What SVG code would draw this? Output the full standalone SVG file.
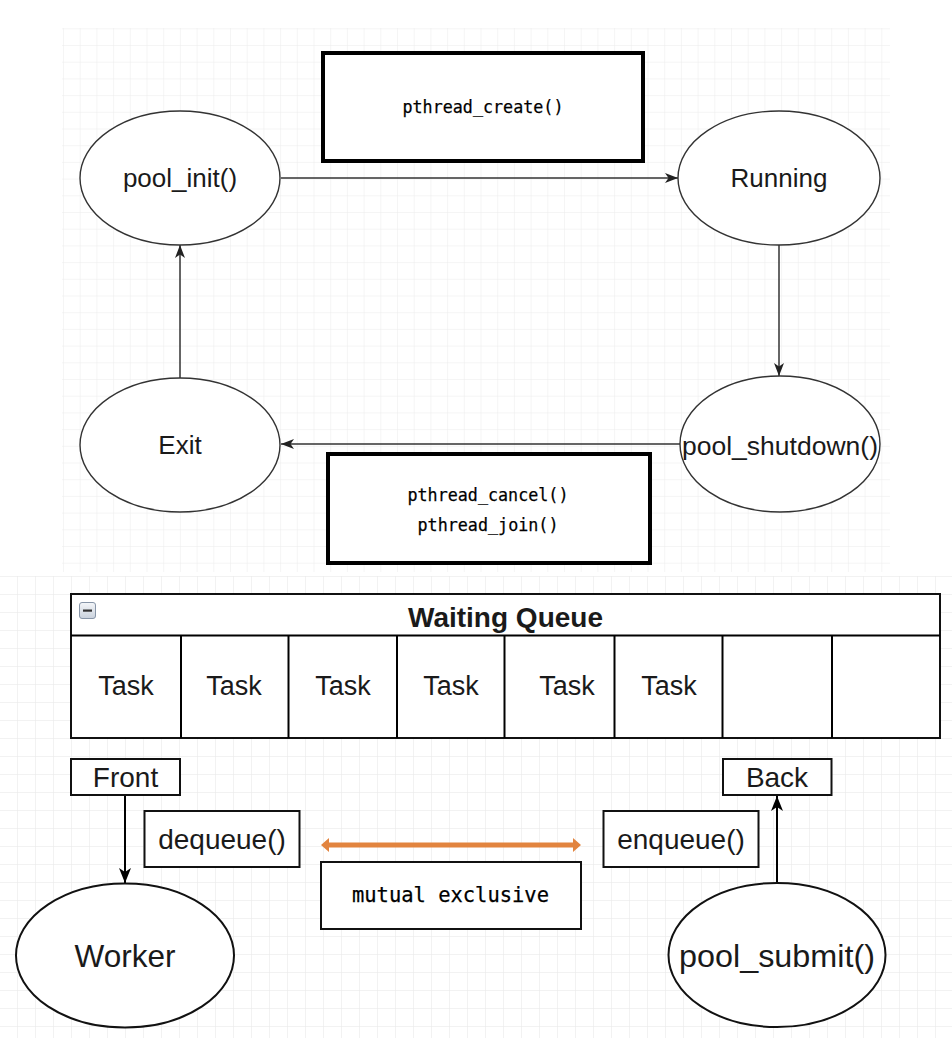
<svg xmlns="http://www.w3.org/2000/svg" width="952" height="1038" viewBox="0 0 952 1038">
<defs>
<pattern id="gridTop" x="63" y="28.3" width="16.7" height="16.7" patternUnits="userSpaceOnUse">
<path d="M0,0 H16.7 M0,0 V16.7" fill="none" stroke="#ececec" stroke-width="1"/>
</pattern>
<pattern id="gridBot" x="-1" y="576" width="18" height="18" patternUnits="userSpaceOnUse">
<path d="M0,0 H18 M0,0 V18" fill="none" stroke="#e6e6e6" stroke-width="1"/>
</pattern>
<linearGradient id="iconGrad" x1="0" y1="0" x2="0" y2="1">
<stop offset="0" stop-color="#f4f6f9"/>
<stop offset="1" stop-color="#c9d1dc"/>
</linearGradient>
<marker id="arrTop" viewBox="0 0 13 10" refX="13" refY="5" markerWidth="13" markerHeight="10" markerUnits="userSpaceOnUse" orient="auto">
<path d="M0,0 L13,5 L0,10 L3.5,5 Z" fill="#222"/>
</marker>
<marker id="arrBot" viewBox="0 0 15 12" refX="15" refY="6" markerWidth="15" markerHeight="12" markerUnits="userSpaceOnUse" orient="auto">
<path d="M0,0 L15,6 L0,12 L4,6 Z" fill="#000"/>
</marker>
</defs>
<style>
.bg{fill:#ffffff}
.st{fill:#fff;stroke:#333;stroke-width:1.4}
.sb{fill:#fff;stroke:#111;stroke-width:2}
.thick{fill:#fff;stroke:#000;stroke-width:4}
.lbl{font-family:"Liberation Sans",Arial,sans-serif;fill:#1a1a1a;text-anchor:middle}
.mono{font-family:"DejaVu Sans Mono","Liberation Mono",monospace;fill:#000;text-anchor:middle;stroke:#000;stroke-width:0.25}
.edgeT{fill:none;stroke:#333;stroke-width:1.5}
.edgeB{fill:none;stroke:#000;stroke-width:2}
</style>
<rect class="bg" x="0" y="0" width="952" height="1038"/>
<rect x="62" y="28" width="828" height="544" fill="url(#gridTop)"/>
<rect x="0" y="576" width="952" height="462" fill="url(#gridBot)"/>

<g id="connectors">
<line class="edgeT" x1="281" y1="178" x2="678" y2="178" marker-end="url(#arrTop)"/>
<line class="edgeT" x1="779" y1="245" x2="779" y2="376" marker-end="url(#arrTop)"/>
<line class="edgeT" x1="680" y1="444" x2="281" y2="444" marker-end="url(#arrTop)"/>
<line class="edgeT" x1="180" y1="378" x2="180" y2="245" marker-end="url(#arrTop)"/>
<line class="edgeB" x1="125" y1="795" x2="125" y2="883" marker-end="url(#arrBot)"/>
<line class="edgeB" x1="777" y1="883" x2="777" y2="796" marker-end="url(#arrBot)"/>
<polygon id="mutex-arrow" points="321,845 329,838 329,842.5 573,842.5 573,838 581,845 573,852 573,847.5 329,847.5 329,852" fill="#E2843F"/>
</g>

<g id="pthread-create">
<rect class="thick" x="323" y="53" width="320" height="108"/>
<text class="mono" x="483" y="113" font-size="18.5" textLength="161" lengthAdjust="spacingAndGlyphs">pthread_create()</text>
</g>
<g id="pool-init">
<ellipse class="st" cx="180" cy="178" rx="100" ry="67"/>
<text class="lbl" x="180" y="187" font-size="26">pool_init()</text>
</g>
<g id="running">
<ellipse class="st" cx="779" cy="178" rx="101" ry="67"/>
<text class="lbl" x="779" y="187" font-size="26">Running</text>
</g>
<g id="pool-shutdown">
<ellipse class="st" cx="780" cy="444" rx="100" ry="68"/>
<text class="lbl" x="780" y="455" font-size="26" textLength="196" lengthAdjust="spacingAndGlyphs">pool_shutdown()</text>
</g>
<g id="exit">
<ellipse class="st" cx="180" cy="445" rx="100" ry="67"/>
<text class="lbl" x="180" y="454" font-size="26">Exit</text>
</g>
<g id="pthread-cancel-join">
<rect class="thick" x="328" y="454" width="322" height="109"/>
<text class="mono" x="488" y="501" font-size="18.5" textLength="161" lengthAdjust="spacingAndGlyphs">pthread_cancel()</text>
<text class="mono" x="488" y="531" font-size="18.5" textLength="141" lengthAdjust="spacingAndGlyphs">pthread_join()</text>
</g>

<g id="waiting-queue">
<rect class="sb" x="71" y="594" width="869" height="144"/>
<line class="edgeB" x1="71" y1="635.5" x2="940" y2="635.5"/>
<line class="edgeB" x1="181" y1="635.5" x2="181" y2="738"/>
<line class="edgeB" x1="288.5" y1="635.5" x2="288.5" y2="738"/>
<line class="edgeB" x1="397" y1="635.5" x2="397" y2="738"/>
<line class="edgeB" x1="504.5" y1="635.5" x2="504.5" y2="738"/>
<line class="edgeB" x1="614.5" y1="635.5" x2="614.5" y2="738"/>
<line class="edgeB" x1="722.5" y1="635.5" x2="722.5" y2="738"/>
<line class="edgeB" x1="832" y1="635.5" x2="832" y2="738"/>
<rect x="79.5" y="602.5" width="16" height="16" rx="2.5" fill="url(#iconGrad)" stroke="#8795a8" stroke-width="1"/>
<rect x="83" y="609.5" width="9" height="2.2" fill="#333"/>
<text class="lbl" x="505.5" y="627" font-size="28" font-weight="bold" fill="#000">Waiting Queue</text>
<text class="lbl" x="126" y="695" font-size="27">Task</text>
<text class="lbl" x="234" y="695" font-size="27">Task</text>
<text class="lbl" x="343" y="695" font-size="27">Task</text>
<text class="lbl" x="451" y="695" font-size="27">Task</text>
<text class="lbl" x="567" y="695" font-size="27">Task</text>
<text class="lbl" x="669" y="695" font-size="27">Task</text>
</g>

<g id="front">
<rect class="sb" x="71" y="759" width="109" height="36"/>
<text class="lbl" x="125.5" y="787" font-size="28">Front</text>
</g>
<g id="back">
<rect class="sb" x="723" y="759" width="108.5" height="36"/>
<text class="lbl" x="777" y="787" font-size="28">Back</text>
</g>
<g id="dequeue">
<rect class="sb" x="144.5" y="811" width="155" height="56"/>
<text class="lbl" x="222" y="849" font-size="28">dequeue()</text>
</g>
<g id="enqueue">
<rect class="sb" x="603.5" y="811" width="155" height="56"/>
<text class="lbl" x="681" y="849" font-size="28">enqueue()</text>
</g>
<g id="mutual-exclusive">
<rect class="sb" x="321" y="862" width="260" height="67"/>
<text class="mono" x="450.5" y="902" font-size="21" textLength="197" lengthAdjust="spacingAndGlyphs">mutual exclusive</text>
</g>
<g id="worker">
<ellipse class="sb" cx="125" cy="955.5" rx="109" ry="72"/>
<text class="lbl" x="125" y="967" font-size="31.5">Worker</text>
</g>
<g id="pool-submit">
<ellipse class="sb" cx="777" cy="955" rx="108.5" ry="72"/>
<text class="lbl" x="777" y="967" font-size="31.5" textLength="196" lengthAdjust="spacingAndGlyphs">pool_submit()</text>
</g>
</svg>
